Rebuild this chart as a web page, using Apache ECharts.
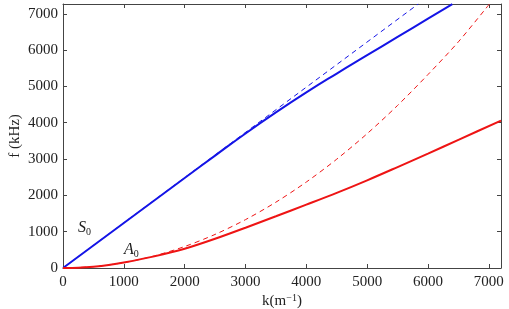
<!DOCTYPE html>
<html>
<head>
<meta charset="utf-8">
<script src="https://cdn.jsdelivr.net/npm/echarts@6/dist/echarts.min.js"></script>
<style>
  html, body { margin: 0; padding: 0; background: #fff; }
  #chart { width: 509px; height: 309px; }
</style>
</head>
<body>
<div id="chart"></div>
<script>
// 数据 (k in 1/m, f in kHz)
const s0K = [0, 500, 1000, 1500, 2000, 2500, 3000, 3500, 4000, 4500, 5000, 5500, 6000, 6400];
const s0F = [0, 620, 1240, 1860, 2480, 3095, 3705, 4285, 4835, 5355, 5860, 6365, 6865, 7265];

const s0LinK = [0, 5840];
const s0LinF = [0, 7270];

const a0K = [0, 250, 500, 750, 1000, 1500, 2000, 2500, 3000, 3500, 4000, 4500, 5000, 5500, 6000, 6500, 7200];
const a0F = [0, 9, 37, 83, 150, 320, 530, 805, 1110, 1425, 1745, 2070, 2415, 2780, 3150, 3530, 4057];

const a0QuadK = [0, 500, 1000, 1500, 2000, 2500, 3000, 3500, 4000, 4500, 5000, 5500, 6000, 6500, 7010];
const a0QuadF = [0, 37, 148, 333, 592, 925, 1332, 1813, 2368, 2997, 3700, 4477, 5328, 6230, 7270];

const xTicks = [0, 1000, 2000, 3000, 4000, 5000, 6000, 7000];
const yTicks = [0, 1000, 2000, 3000, 4000, 5000, 6000, 7000];

const zip = (a, b) => a.map((v, i) => [v, b[i]]);

const font = '"Liberation Serif", "DejaVu Serif", serif';
const blue = '#1414e6';
const red = '#ee1414';

const tickFmt = (list) => (v) => (list.indexOf(v) >= 0 ? String(v) : '');

const chart = echarts.init(document.getElementById('chart'));

const axisCommon = {
    type: 'value',
    min: 0,
    interval: 1000,
    splitLine: { show: false },
    axisLine: { show: true, onZero: false, lineStyle: { color: '#444', width: 1 } },
    axisTick: { show: true, inside: true, length: 4, lineStyle: { color: '#444' } }
};

const subLabel = (letter) => ({
    text: '{i|' + letter + '}{b|0}',
    rich: {
        i: { fontFamily: font, fontStyle: 'italic', fontSize: 16, fill: '#222' },
        b: { fontFamily: font, fontSize: 10, fill: '#222', verticalAlign: 'bottom', padding: [8, 0, 0, 0] }
    }
});

const options = {
    animation: false,
    grid: { left: 63, right: 8, top: 4, bottom: 41, outerBoundsMode: 'none', containLabel: false },
    xAxis: [
        Object.assign({}, axisCommon, {
            max: 7200,
            position: 'bottom',
            axisLabel: { color: '#222', fontFamily: font, fontSize: 15, margin: 7, formatter: tickFmt(xTicks) },
            name: '{n|k(m}{s|−1}{n|)}',
            nameLocation: 'middle',
            nameGap: 25,
            nameMoveOverlap: false,
            nameTextStyle: {
                rich: {
                    n: { fontFamily: font, fontSize: 15, color: '#222' },
                    s: { fontFamily: font, fontSize: 10, color: '#222', verticalAlign: 'top', padding: [0, 0, 6, 0] }
                }
            }
        }),
        Object.assign({}, axisCommon, {
            max: 7200,
            position: 'top',
            axisLabel: { show: false }
        })
    ],
    yAxis: [
        Object.assign({}, axisCommon, {
            max: 7270,
            position: 'left',
            axisLabel: { color: '#222', fontFamily: font, fontSize: 15, margin: 5, formatter: tickFmt(yTicks) },
            name: 'f (kHz)',
            nameLocation: 'middle',
            nameGap: 40,
            nameMoveOverlap: false,
            nameTextStyle: { fontFamily: font, fontSize: 15, color: '#222' }
        }),
        Object.assign({}, axisCommon, {
            max: 7270,
            position: 'right',
            axisLabel: { show: false }
        })
    ],
    series: [
        {
            type: 'line', name: 'S0 linear', data: zip(s0LinK, s0LinF),
            showSymbol: false, lineStyle: { color: blue, width: 1, type: [5, 4] }, z: 2
        },
        {
            type: 'line', name: 'S0', data: zip(s0K, s0F), smooth: 0.5,
            showSymbol: false, lineStyle: { color: blue, width: 2 }, z: 3
        },
        {
            type: 'line', name: 'A0 flexural', data: zip(a0QuadK, a0QuadF), smooth: 0.3,
            showSymbol: false, lineStyle: { color: red, width: 1, type: [5, 4] }, z: 2
        },
        {
            type: 'line', name: 'A0', data: zip(a0K, a0F), smooth: 0.3,
            showSymbol: false, lineStyle: { color: red, width: 2 }, z: 3
        }
    ],
    graphic: [
        { type: 'text', left: 78, top: 220, style: subLabel('S') },
        { type: 'text', left: 124, top: 242, style: subLabel('A') }
    ]
};

chart.setOption(options);
</script>
</body>
</html>
